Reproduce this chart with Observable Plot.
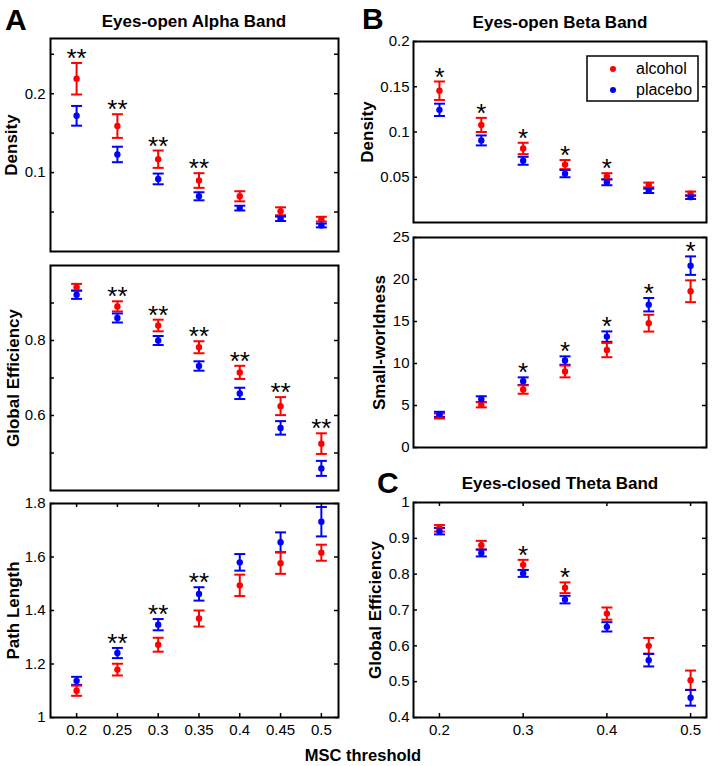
<!DOCTYPE html>
<html><head><meta charset="utf-8">
<script src="https://cdn.jsdelivr.net/npm/d3@7"></script>
<script src="https://cdn.jsdelivr.net/npm/@observablehq/plot@0.6"></script>
<style>
body{margin:0;background:#fff;font-family:"Liberation Sans",Arial,sans-serif}
#root{position:relative;width:714px;height:766px;overflow:hidden}
#root svg{position:absolute}
</style></head>
<body><div id="root"></div>
<script>
// ---------- data ----------
const thresholds = [0.2, 0.25, 0.3, 0.35, 0.4, 0.45, 0.5];
const groups = ["alcohol", "placebo"];

// A: Eyes-open Alpha Band
const alphaDensityAlcohol = [0.219, 0.159, 0.117, 0.090, 0.070, 0.051, 0.041];
const alphaDensityAlcoholSem = [0.020, 0.015, 0.011, 0.0093, 0.0064, 0.005, 0.003];
const alphaDensityPlacebo = [0.172, 0.123, 0.092, 0.070, 0.055, 0.0415, 0.033];
const alphaDensityPlaceboSem = [0.0125, 0.0098, 0.0068, 0.0051, 0.003, 0.0028, 0.0024];
const alphaDensitySig = ["**", "**", "**", "**", "", "", ""];

const alphaGeAlcohol = [0.942, 0.891, 0.840, 0.782, 0.715, 0.625, 0.525];
const alphaGeAlcoholSem = [0.009, 0.0135, 0.0155, 0.016, 0.0175, 0.024, 0.0275];
const alphaGePlacebo = [0.922, 0.860, 0.800, 0.732, 0.659, 0.567, 0.459];
const alphaGePlaceboSem = [0.011, 0.012, 0.012, 0.0125, 0.015, 0.018, 0.020];
const alphaGeSig = ["", "**", "**", "**", "**", "**", "**"];

const alphaPlAlcohol = [1.100, 1.179, 1.272, 1.370, 1.494, 1.577, 1.616];
const alphaPlAlcoholSem = [0.019, 0.022, 0.026, 0.030, 0.040, 0.040, 0.030];
const alphaPlPlacebo = [1.137, 1.241, 1.347, 1.462, 1.580, 1.655, 1.732];
const alphaPlPlaceboSem = [0.015, 0.019, 0.021, 0.025, 0.031, 0.037, 0.055];
const alphaPlSig = ["", "**", "**", "**", "", "", ""];

// B: Eyes-open Beta Band
const betaDensityAlcohol = [0.1456, 0.1078, 0.0818, 0.064, 0.051, 0.0415, 0.0318];
const betaDensityAlcoholSem = [0.0102, 0.0078, 0.0063, 0.005, 0.0035, 0.0026, 0.0024];
const betaDensityPlacebo = [0.1245, 0.0907, 0.0682, 0.054, 0.0445, 0.035, 0.028];
const betaDensityPlaceboSem = [0.0068, 0.0055, 0.0044, 0.004, 0.0033, 0.0024, 0.002];
const betaDensitySig = ["*", "*", "*", "*", "*", "", ""];

const betaSwAlcohol = [3.75, 5.1, 6.9, 9.05, 11.6, 14.8, 18.6];
const betaSwAlcoholSem = [0.3, 0.32, 0.5, 0.7, 0.85, 1.0, 1.3];
const betaSwPlacebo = [3.95, 5.75, 7.9, 10.35, 13.2, 17.0, 21.65];
const betaSwPlaceboSem = [0.3, 0.35, 0.45, 0.5, 0.62, 0.8, 1.1];
const betaSwSig = ["", "", "*", "*", "*", "*", "*"];

// C: Eyes-closed Theta Band
const thetaGeAlcohol = [0.928, 0.881, 0.826, 0.762, 0.690, 0.600, 0.504];
const thetaGeAlcoholSem = [0.009, 0.012, 0.014, 0.015, 0.017, 0.022, 0.027];
const thetaGePlacebo = [0.920, 0.859, 0.802, 0.729, 0.653, 0.560, 0.455];
const thetaGePlaceboSem = [0.009, 0.0095, 0.0095, 0.0105, 0.013, 0.0175, 0.022];
const thetaGeSig = ["", "", "*", "*", "", "", ""];

// axis ticks
const alphaDensityTicks = [0.05, 0.1, 0.15, 0.2, 0.25];
const alphaDensityLabels = [0.1, 0.2];
const alphaGeTicks = [0.5, 0.6, 0.7, 0.8, 0.9];
const alphaGeLabels = [0.6, 0.8];
const alphaPlTicks = [1, 1.2, 1.4, 1.6, 1.8];
const betaDensityTicks = [0.05, 0.1, 0.15, 0.2];
const betaSwTicks = [0, 5, 10, 15, 20, 25];
const thetaGeTicks = [0.4, 0.5, 0.6, 0.7, 0.8, 0.9, 1];
const xTicksA = thresholds;
const xTicksC = [0.2, 0.3, 0.4, 0.5];

const colors = ["#ff0000", "#0000ff"];

// ---------- drawing ----------
const root = document.getElementById("root");
const capSymbol = {
  draw(ctx, size) {
    const r = Math.sqrt(size / Math.PI);
    ctx.moveTo(-r, 0);
    ctx.lineTo(r, 0);
  }
};

function panel(o) {
  const mL = 60, mR = 10, mT = 12, mB = 32;
  const W = o.right - o.left, H = o.bottom - o.top;
  const rows = [];
  const series = [[o.alc, o.alcSem], [o.pla, o.plaSem]];
  series.forEach(([m, s], g) => thresholds.forEach((t, i) => rows.push({
    t, group: groups[g], mean: m[i], lo: m[i] - s[i], hi: m[i] + s[i]
  })));
  const stars = thresholds.map((t, i) => ({
    t, sig: o.sig[i],
    top: Math.max(o.alc[i] + o.alcSem[i], o.pla[i] + o.plaSem[i])
  })).filter(d => d.sig);
  const marks = [
    Plot.frame({stroke: "black", strokeWidth: 2}),
    Plot.tickY(o.yTicks, {y: d => d, insetRight: W - 4, stroke: "black", strokeWidth: 1.5}),
    Plot.tickY(o.yTicks, {y: d => d, insetLeft: W - 4, stroke: "black", strokeWidth: 1.5}),
    Plot.axisY({ticks: o.yLabels, tickSize: 0, tickPadding: o.yPad, tickFormat: d => String(d), fontSize: 15, fill: "black"}),
    Plot.text([o.label], {frameAnchor: "left", textAnchor: "middle", dx: o.labelDx, rotate: -90, fontSize: 17, fontWeight: "bold", fill: "black", lineAnchor: "middle"}),
    Plot.ruleX(rows, {x: "t", y1: "lo", y2: "hi", stroke: "group", strokeWidth: 2}),
    Plot.dot(rows, {x: "t", y: "lo", symbol: capSymbol, r: 5.5, stroke: "group", fill: "none", strokeWidth: 2}),
    Plot.dot(rows, {x: "t", y: "hi", symbol: capSymbol, r: 5.5, stroke: "group", fill: "none", strokeWidth: 2}),
    Plot.dot(rows, {x: "t", y: "mean", r: 3.2, fill: "group", stroke: "none"}),
    Plot.text(stars, {x: "t", y: "top", text: "sig", lineAnchor: "bottom", dy: 4, fontSize: 26, fill: "black"})
  ];
  if (o.xTicks) {
    marks.push(
      Plot.tickX(o.xTicks, {x: d => d, insetTop: H - 4, stroke: "black", strokeWidth: 1.5}),
      Plot.tickX(o.xTicks, {x: d => d, insetBottom: H - 4, stroke: "black", strokeWidth: 1.5}),
      Plot.axisX({ticks: o.xTicks, tickSize: 0, tickPadding: 7, tickFormat: d => String(d), fontSize: 15, fill: "black"})
    );
  } else {
    marks.push(Plot.axisX({ticks: [], label: null}));
  }
  const svg = Plot.plot({
    width: W + mL + mR, height: H + mT + mB,
    marginLeft: mL, marginRight: mR, marginTop: mT, marginBottom: mB,
    x: {domain: o.xDomain, label: null},
    y: {domain: o.yDomain, label: null},
    color: {domain: groups, range: colors},
    style: {background: "none", fontFamily: "'Liberation Sans', Arial, sans-serif", fontSize: "15px", overflow: "visible"},
    marks
  });
  svg.style.left = (o.left - mL) + "px";
  svg.style.top = (o.top - mT) + "px";
  root.appendChild(svg);
}

const xDomA = [0.168, 0.521], xDomB = [0.169, 0.519];

panel({left: 50, right: 338, top: 38, bottom: 251, xDomain: xDomA, yDomain: [0, 0.27],
  yTicks: alphaDensityTicks, yLabels: alphaDensityLabels, yPad: 5, label: "Density", labelDx: -39,
  alc: alphaDensityAlcohol, alcSem: alphaDensityAlcoholSem, pla: alphaDensityPlacebo, plaSem: alphaDensityPlaceboSem, sig: alphaDensitySig});
panel({left: 50, right: 338, top: 265, bottom: 490, xDomain: xDomA, yDomain: [0.4, 1.0],
  yTicks: alphaGeTicks, yLabels: alphaGeLabels, yPad: 5, label: "Global Efficiency", labelDx: -37,
  alc: alphaGeAlcohol, alcSem: alphaGeAlcoholSem, pla: alphaGePlacebo, plaSem: alphaGePlaceboSem, sig: alphaGeSig});
panel({left: 50, right: 338, top: 503, bottom: 717, xDomain: xDomA, yDomain: [1, 1.8],
  yTicks: alphaPlTicks, yLabels: alphaPlTicks, yPad: 5, label: "Path Length", labelDx: -37, xTicks: xTicksA,
  alc: alphaPlAlcohol, alcSem: alphaPlAlcoholSem, pla: alphaPlPlacebo, plaSem: alphaPlPlaceboSem, sig: alphaPlSig});
panel({left: 413, right: 706, top: 41, bottom: 222, xDomain: xDomB, yDomain: [0, 0.2],
  yTicks: betaDensityTicks, yLabels: betaDensityTicks, yPad: 4, label: "Density", labelDx: -46,
  alc: betaDensityAlcohol, alcSem: betaDensityAlcoholSem, pla: betaDensityPlacebo, plaSem: betaDensityPlaceboSem, sig: betaDensitySig});
panel({left: 413, right: 706, top: 237, bottom: 447, xDomain: xDomB, yDomain: [0, 25],
  yTicks: betaSwTicks, yLabels: betaSwTicks, yPad: 4, label: "Small-worldness", labelDx: -34,
  alc: betaSwAlcohol, alcSem: betaSwAlcoholSem, pla: betaSwPlacebo, plaSem: betaSwPlaceboSem, sig: betaSwSig});
panel({left: 413, right: 706, top: 502, bottom: 717, xDomain: xDomB, yDomain: [0.4, 1],
  yTicks: thetaGeTicks, yLabels: thetaGeTicks, yPad: 4, label: "Global Efficiency", labelDx: -38, xTicks: xTicksC,
  alc: thetaGeAlcohol, alcSem: thetaGeAlcoholSem, pla: thetaGePlacebo, plaSem: thetaGePlaceboSem, sig: thetaGeSig});

// ---------- overlay: panel letters, titles, shared x label, legend ----------
const ov = d3.select(root).append("svg").attr("width", 714).attr("height", 766)
  .style("left", "0px").style("top", "0px")
  .attr("font-family", "'Liberation Sans', Arial, sans-serif");
const letters = [["A", 5, 30], ["B", 362, 29], ["C", 377, 493]];
ov.selectAll("text.letter").data(letters).join("text").attr("class", "letter")
  .attr("x", d => d[1]).attr("y", d => d[2]).attr("font-size", 30).attr("font-weight", "bold").text(d => d[0]);
const titles = [["Eyes-open Alpha Band", 194, 27], ["Eyes-open Beta Band", 560, 28], ["Eyes-closed Theta Band", 560, 489]];
ov.selectAll("text.title").data(titles).join("text").attr("class", "title")
  .attr("x", d => d[1]).attr("y", d => d[2]).attr("text-anchor", "middle")
  .attr("font-size", 17).attr("font-weight", "bold").text(d => d[0]);
ov.append("text").attr("x", 363).attr("y", 761).attr("text-anchor", "middle")
  .attr("font-size", 16.5).attr("font-weight", "bold").text("MSC threshold");
const lg = ov.append("g");
lg.append("rect").attr("x", 587).attr("y", 56).attr("width", 111).attr("height", 45)
  .attr("fill", "white").attr("stroke", "black").attr("stroke-width", 1.5);
groups.forEach((g, i) => {
  lg.append("circle").attr("cx", 613).attr("cy", 69 + i * 21).attr("r", 3).attr("fill", colors[i]);
  lg.append("text").attr("x", 636).attr("y", 74 + i * 21).attr("font-size", 16).text(g);
});
</script>
</body></html>
